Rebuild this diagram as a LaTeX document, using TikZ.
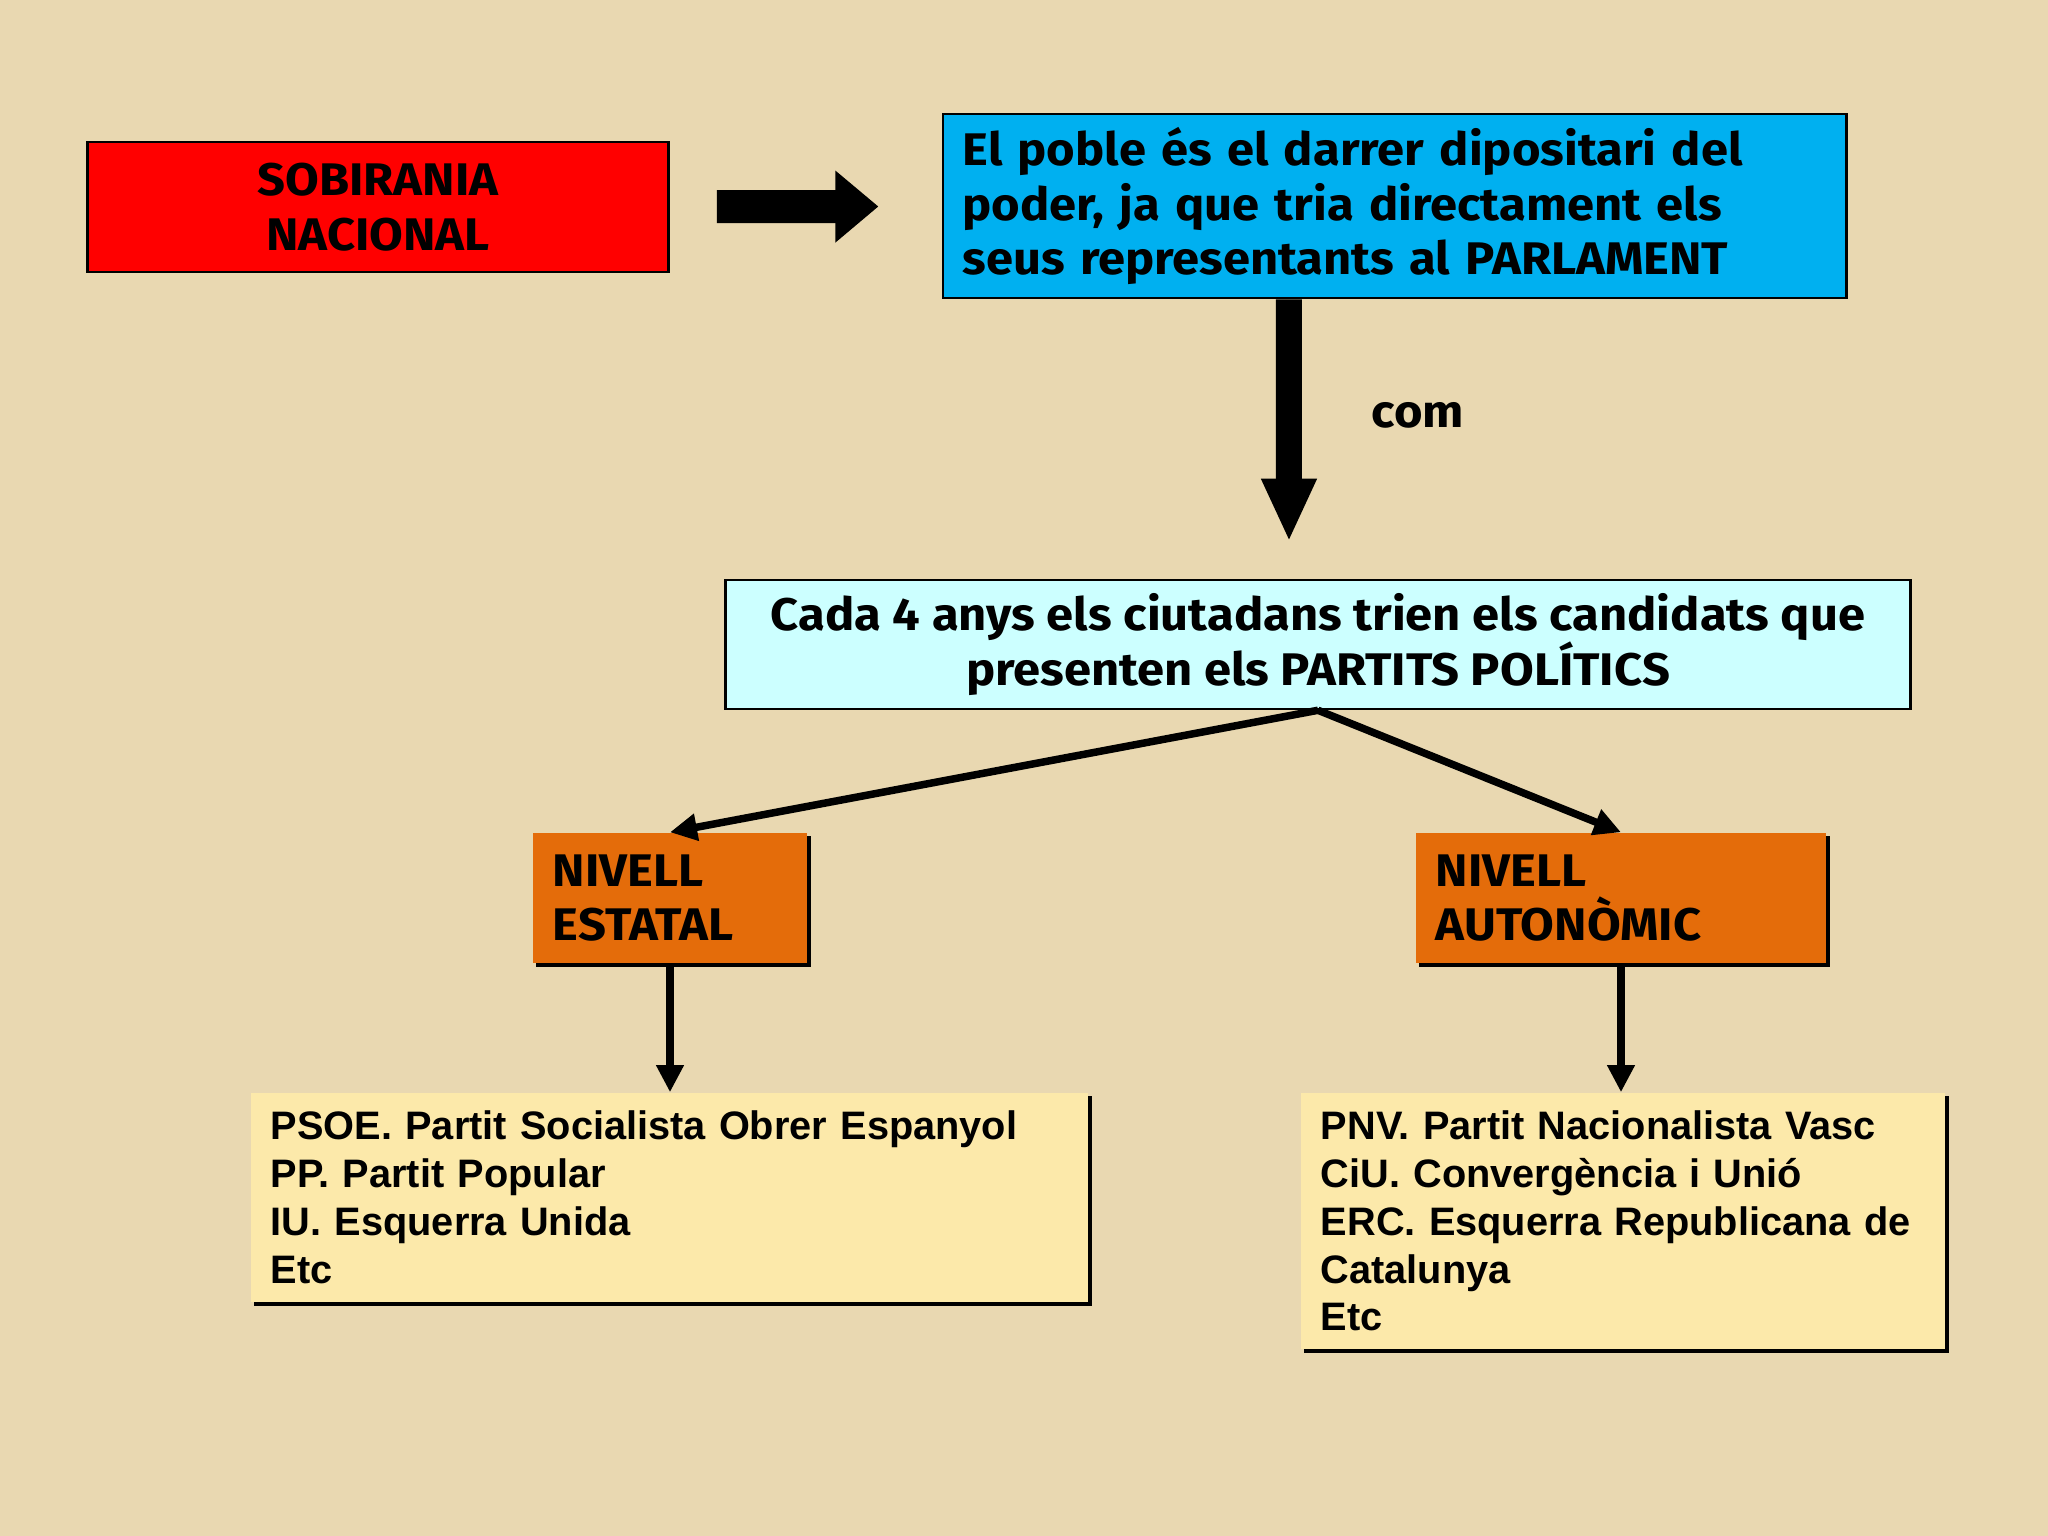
\documentclass[tikz,border=0pt]{standalone}
\usepackage{fontspec}
\usepackage{tikz}
\usetikzlibrary{arrows.meta,shadows}

\newfontfamily\comicfont{Fira Sans}[FakeStretch=1.07]
\newfontfamily\arialfont{Liberation Sans}
\newcommand{\comic}{\comicfont\bfseries\fontsize{13pt}{15.6pt}\selectfont}
\newcommand{\llista}{\arialfont\bfseries\fontsize{11.3pt}{13.6pt}\selectfont}

\definecolor{paper}{HTML}{E9D8B1}
\definecolor{sobred}{HTML}{FF0000}
\definecolor{pobleblue}{HTML}{00B0F0}
\definecolor{cadacyan}{HTML}{CCFFFF}
\definecolor{nivellorange}{HTML}{E46C0A}
\definecolor{llistayellow}{HTML}{FCE9AA}

\tikzset{
    box/.style={draw=black, line width=0.7pt, inner xsep=0.2cm, inner ysep=0pt, font=\comic},
    nivell/.style={fill=nivellorange, inner xsep=0.2cm, inner ysep=0pt, font=\comic, align=left,
        drop shadow={shadow xshift=0.035cm, shadow yshift=-0.035cm, opacity=1, fill=black}},
    llistabox/.style={fill=llistayellow, inner xsep=0.2cm, inner ysep=0pt, font=\llista, align=left,
        drop shadow={shadow xshift=0.035cm, shadow yshift=-0.035cm, opacity=1, fill=black}},
    bigarrow/.style={line width=0.33cm, -{Triangle[length=0.43cm 0 0, width=0.69cm 0 0]}},
    downarrow/.style={line width=0.26cm, -{Triangle[length=0.63cm 0 0, width=0.51cm 0 0]}},
    thinarrow/.style={line width=0.075cm, -{Triangle[length=0.27cm 0 0, width=0.26cm 0 0]}}
}

\begin{document}
\begin{tikzpicture}[x=0.01cm, y=-0.01cm]

    \fill[paper] (0,0) rectangle (2048,1536);

    \node[box, fill=sobred, minimum width=5.81cm, minimum height=1.30cm, align=center] (sob) at (378,207)
        {SOBIRANIA\\NACIONAL};
    \node[box, fill=pobleblue, minimum width=9.03cm, minimum height=1.84cm, text width=8.63cm, align=left] (poble) at (1394.5,206)
        {El poble és el darrer dipositari del\\poder, ja que tria directament els\\seus representants al PARLAMENT};
    \node[box, fill=cadacyan, minimum width=11.84cm, minimum height=1.29cm, align=center] (cada) at (1318,644.5)
        {Cada 4 anys els ciutadans trien els candidats que\\presenten els PARTITS POLÍTICS};
    \node[font=\comic] (com) at (1418,415) {com};

    \node[nivell, minimum width=2.74cm, minimum height=1.30cm, text width=2.34cm] (estatal) at (670,898)
        {NIVELL\\ESTATAL};
    \node[nivell, minimum width=4.10cm, minimum height=1.30cm, text width=3.70cm] (autonomic) at (1621,898)
        {NIVELL\\AUTONÒMIC};

    \node[llistabox, minimum width=8.37cm, minimum height=2.09cm, text width=7.97cm] (psoe) at (669.5,1197.5)
        {PSOE. Partit Socialista Obrer Espanyol\\PP. Partit Popular\\IU. Esquerra Unida\\Etc};
    \node[llistabox, minimum width=6.44cm, minimum height=2.56cm, text width=6.04cm] (pnv) at (1623,1221)
        {PNV. Partit Nacionalista Vasc\\CiU. Convergència i Unió\\ERC. Esquerra Republicana de\\Catalunya\\Etc};

    \draw[bigarrow, shorten <=0.47cm, shorten >=0.63cm] (sob) -- (poble);
    \draw[downarrow] ([xshift=-1.055cm]poble.south) -- ([xshift=-0.29cm, yshift=0.37cm]cada.north);

    \draw[thinarrow] (cada.south) -- (estatal.north);
    \draw[thinarrow] (cada.south) -- (autonomic.north);
    \draw[thinarrow] (estatal.south) -- (estatal.south |- psoe.north);
    \draw[thinarrow] (autonomic.south) -- (autonomic.south |- pnv.north);

\end{tikzpicture}
\end{document}
